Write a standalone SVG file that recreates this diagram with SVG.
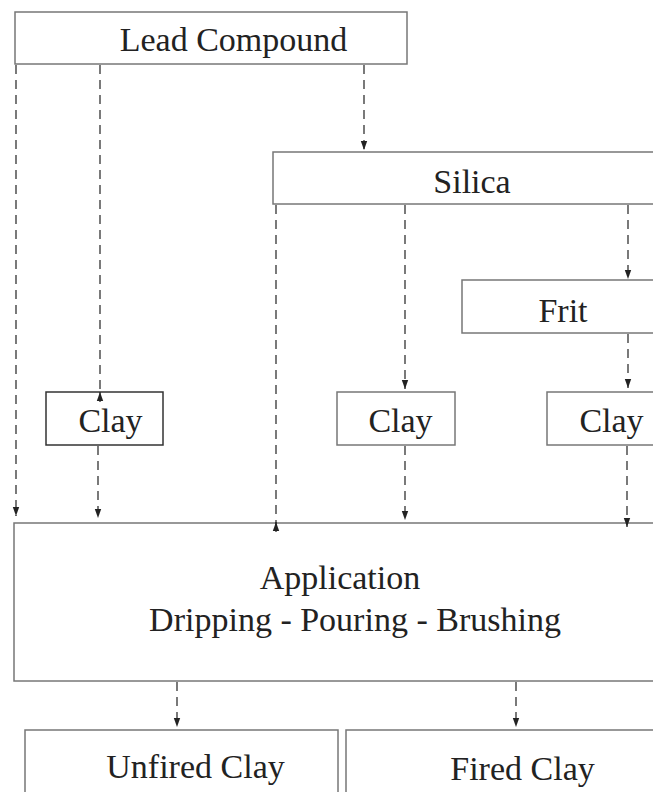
<svg xmlns="http://www.w3.org/2000/svg" width="653" height="792" viewBox="0 0 653 792">
<style>
.box{fill:#fff;stroke:#777;stroke-width:1.5}
.dark{stroke:#333}
.lbl{font-size:34px;fill:#222;text-anchor:middle}
.c{fill:none;stroke:#222;stroke-width:1.2;stroke-dasharray:9 6}
.s{fill:none;stroke:#222;stroke-width:1.2}
</style>
<defs>
<marker id="ah" markerUnits="userSpaceOnUse" markerWidth="9" markerHeight="9" viewBox="0 0 9 9" refX="9" refY="4.5" orient="auto">
<path d="M0,1.3 L9,4.5 L0,7.7 z" fill="#222"/>
</marker>
</defs>
<rect width="653" height="792" fill="#fff"/>
<g font-family="'Liberation Serif', 'Times New Roman', 'DejaVu Serif', serif">
<g id="lead"><rect class="box" x="15" y="12" width="392" height="52"/><text class="lbl" x="233.5" y="51">Lead Compound</text></g>
<g id="silica"><rect class="box" x="273" y="152" width="390" height="52"/><text class="lbl" x="472" y="193">Silica</text></g>
<g id="frit"><rect class="box" x="462" y="280" width="200" height="53"/><text class="lbl" x="563" y="322">Frit</text></g>
<g id="clay1"><rect class="box dark" x="46" y="392" width="117" height="53"/><text class="lbl" x="110.5" y="432">Clay</text></g>
<g id="clay2"><rect class="box" x="337" y="392" width="118" height="53"/><text class="lbl" x="400.5" y="432">Clay</text></g>
<g id="clay3"><rect class="box" x="547" y="392" width="115" height="53"/><text class="lbl" x="611.5" y="432">Clay</text></g>
<g id="application"><rect class="box" x="14" y="523" width="650" height="158"/><text class="lbl" x="340" y="589">Application</text><text class="lbl" x="355" y="631">Dripping - Pouring - Brushing</text></g>
<g id="unfired"><rect class="box" x="25" y="730" width="313" height="80"/><text class="lbl" x="195.5" y="778">Unfired Clay</text></g>
<g id="fired"><rect class="box" x="346" y="730" width="320" height="80"/><text class="lbl" x="522.5" y="780">Fired Clay</text></g>
</g>
<g id="connectors">
<path class="c" d="M16,65 L16,516" marker-end="url(#ah)"/>
<path class="c" d="M100,65 L100,400"/>
<path class="s" d="M100,402 L100,392" marker-end="url(#ah)"/>
<path class="c" d="M98,446 L98,518" marker-end="url(#ah)"/>
<path class="c" d="M364,65 L364,150" marker-end="url(#ah)"/>
<path class="c" d="M276,205 L276,530"/>
<path class="s" d="M276,532 L276,522" marker-end="url(#ah)"/>
<path class="c" d="M405,205 L405,389" marker-end="url(#ah)"/>
<path class="c" d="M405,446 L405,520" marker-end="url(#ah)"/>
<path class="c" d="M628,205 L628,279" marker-end="url(#ah)"/>
<path class="c" d="M628,334 L628,388" marker-end="url(#ah)"/>
<path class="c" d="M627,446 L627,527" marker-end="url(#ah)"/>
<path class="c" d="M177,682 L177,727" marker-end="url(#ah)"/>
<path class="c" d="M516,682 L516,727" marker-end="url(#ah)"/>
</g>
</svg>
